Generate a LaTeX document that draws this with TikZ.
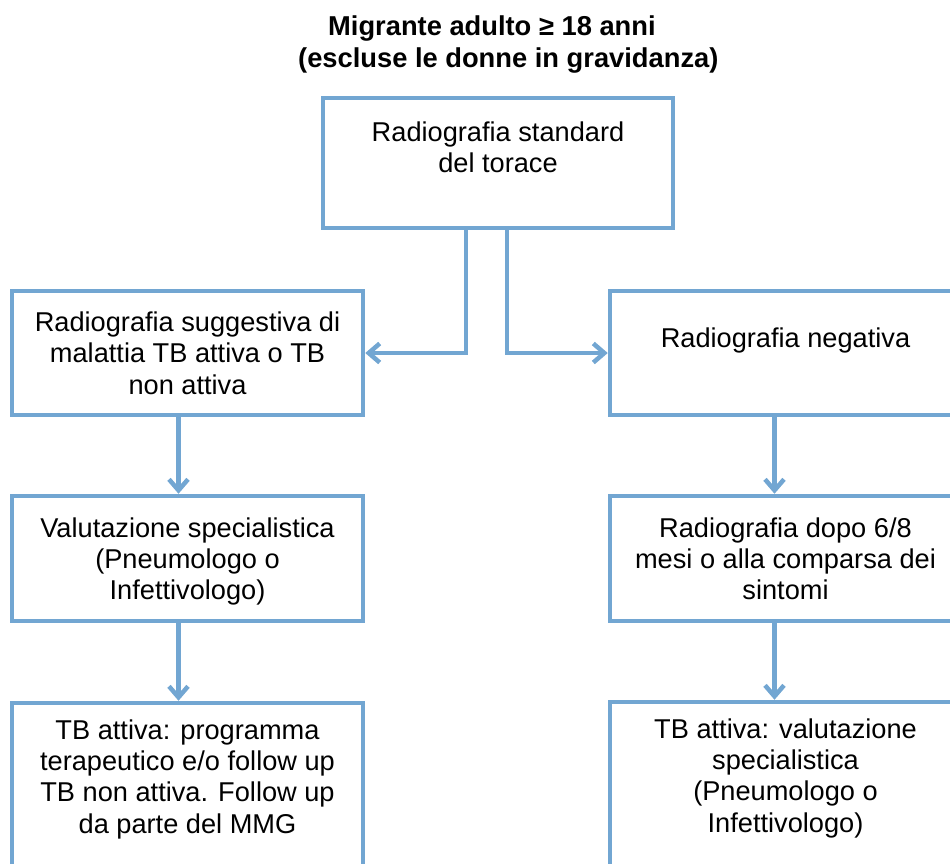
\documentclass[tikz,border=0pt]{standalone}
\usepackage{fontspec}
\setmainfont{Liberation Sans}
\usetikzlibrary{arrows.meta}
\definecolor{boxblue}{RGB}{114,166,210}
\newcommand\lnstrut{\rule[-5.85pt]{0pt}{31.3pt}}
\begin{document}
\begin{tikzpicture}[x=1pt,y=-1pt,
  box/.style={draw=boxblue, line width=4.5pt, fill=white, rectangle, inner sep=0pt,
    align=center, text=black, font=\fontsize{27.2}{31.3}\selectfont},
  conn/.style={draw=boxblue, line width=4.5pt,
    -{Straight Barb[length=11pt,width=19pt]}},
  titlestyle/.style={inner sep=0pt, text=black, anchor=base west,
    font=\fontsize{27.3}{33}\selectfont\bfseries}
]
\useasboundingbox (0,0) rectangle (950,863);
\clip (0,0) rectangle (950,863);

\node[titlestyle] (title1) at (328,35.5) {Migrante adulto ≥ 18 anni};
\node[titlestyle] (title2) at (298,67) {(escluse le donne in gravidanza)};

\node[box, minimum width=350pt, minimum height=130pt] (top) at (498,163)
  {\lnstrut Radiografia standard\\\lnstrut del torace\\\lnstrut};

\node[box, minimum width=351pt, minimum height=124pt] (L1) at (187.5,353)
  {\lnstrut Radiografia suggestiva di\\\lnstrut malattia TB attiva o TB\\\lnstrut non attiva};
\node[box, minimum width=351pt, minimum height=124pt] (R1) at (785.5,353)
  {\lnstrut Radiografia negativa\\\lnstrut};

\node[box, minimum width=351pt, minimum height=125pt] (L2) at (187.5,558.5)
  {\lnstrut Valutazione specialistica\\\lnstrut (Pneumologo o\\\lnstrut Infettivologo)};
\node[box, minimum width=351pt, minimum height=125pt] (R2) at (785.5,558.5)
  {\lnstrut Radiografia dopo 6/8\\\lnstrut mesi o alla comparsa dei\\\lnstrut sintomi};

\node[box, minimum width=351pt, minimum height=178pt] (L3) at (187.5,792)
  {\lnstrut TB attiva: programma\\\lnstrut terapeutico e/o follow up\\\lnstrut TB non attiva. Follow up\\\lnstrut da parte del MMG\\\lnstrut};
\node[box, minimum width=351pt, minimum height=178pt] (R3) at (785.5,791)
  {\lnstrut TB attiva: valutazione\\\lnstrut specialistica\\\lnstrut (Pneumologo o\\\lnstrut Infettivologo)\\\lnstrut};

\draw[conn] ([xshift=-32pt]top.south) |- (L1.east);
\draw[conn] ([xshift=9pt]top.south) |- (R1.west);
\draw[conn] ([xshift=-9pt]L1.south) -- ([xshift=-9pt]L2.north);
\draw[conn] ([xshift=-9pt]L2.south) -- ([xshift=-9pt]L3.north);
\draw[conn] ([xshift=-11pt]R1.south) -- ([xshift=-11pt]R2.north);
\draw[conn] ([xshift=-11pt]R2.south) -- ([xshift=-11pt]R3.north);
\end{tikzpicture}
\end{document}
